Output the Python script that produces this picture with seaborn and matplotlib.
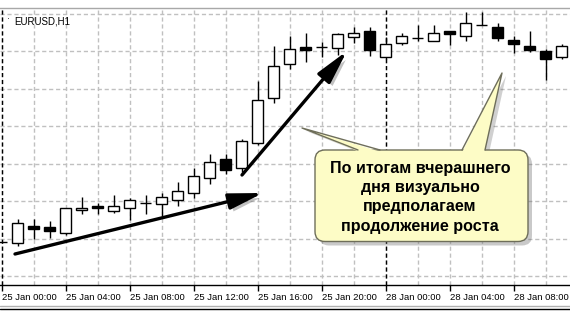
import numpy as np
import pandas as pd
import matplotlib
matplotlib.use("Agg")
import matplotlib.pyplot as plt
import seaborn as sns
from matplotlib.patches import FancyBboxPatch, Polygon
from matplotlib.transforms import IdentityTransform
from matplotlib.lines import Line2D
import matplotlib.patheffects as pe

# ---------------- data ----------------
symbol = "EURUSD,H1"
hours = list(range(36))  # hourly bars, 0 = 25 Jan 00:00, 24 = 28 Jan 00:00
opens = [1.36490, 1.36489, 1.36535, 1.36532, 1.36516, 1.36576, 1.36588, 1.36574, 1.36581, 1.36596,
         1.36592, 1.36603, 1.36623, 1.36661, 1.36713, 1.36690, 1.36755, 1.36875, 1.36966, 1.37011,
         1.37011, 1.37008, 1.37039, 1.37055, 1.36984, 1.37023, 1.37035, 1.37029, 1.37055, 1.37041,
         1.37071, 1.37064, 1.37031, 1.37014, 1.37001, 1.36984]
highs = [1.36490, 1.36552, 1.36552, 1.36547, 1.36581, 1.36610, 1.36596, 1.36616, 1.36608, 1.36616,
         1.36621, 1.36652, 1.36688, 1.36726, 1.36726, 1.36766, 1.36922, 1.37014, 1.37041, 1.37048,
         1.37026, 1.37050, 1.37064, 1.37064, 1.37039, 1.37048, 1.37071, 1.37071, 1.37055, 1.37105,
         1.37106, 1.37075, 1.37041, 1.37055, 1.37006, 1.37020]
lows = [1.36490, 1.36481, 1.36499, 1.36501, 1.36510, 1.36565, 1.36565, 1.36569, 1.36551, 1.36565,
        1.36560, 1.36587, 1.36608, 1.36645, 1.36674, 1.36679, 1.36750, 1.36863, 1.36952, 1.36973,
        1.36984, 1.36990, 1.37023, 1.36988, 1.36980, 1.37017, 1.37029, 1.37029, 1.37017, 1.37029,
        1.37071, 1.37029, 1.36995, 1.36999, 1.36924, 1.36979]
closes = [1.36490, 1.36541, 1.36525, 1.36520, 1.36581, 1.36581, 1.36581, 1.36587, 1.36602, 1.36596,
          1.36610, 1.36627, 1.36667, 1.36705, 1.36683, 1.36761, 1.36870, 1.36961, 1.37006, 1.37004,
          1.37011, 1.37047, 1.37050, 1.37004, 1.37019, 1.37041, 1.37035, 1.37048, 1.37046, 1.37075,
          1.37071, 1.37035, 1.37019, 1.37004, 1.36979, 1.37014]
tick_hours = [0, 4, 8, 12, 16, 20, 24, 28, 32]
tick_labels = ["25 Jan 00:00", "25 Jan 04:00", "25 Jan 08:00", "25 Jan 12:00", "25 Jan 16:00",
               "25 Jan 20:00", "28 Jan 00:00", "28 Jan 04:00", "28 Jan 08:00"]
grid_hours = list(range(0, 36, 2))
day_breaks = [0, 24]
price_grid = [1.3640, 1.3650, 1.3660, 1.3670, 1.3680, 1.3690, 1.3700, 1.3710]
note_lines = ["По итогам вчерашнего", "дня визуально", "предполагаем", "продолжение роста"]

df = pd.DataFrame({"h": hours, "o": opens, "hi": highs, "lo": lows, "c": closes})
df["bull"] = df["c"] >= df["o"]

# ---------------- figure ----------------
sns.set_theme(style="white")
plt.rcParams["font.family"] = ["Liberation Sans", "DejaVu Sans"]

W, H = 570, 311
fig = plt.figure(figsize=(W / 100, H / 100), dpi=100)
fig.patch.set_facecolor("white")
ax = fig.add_axes([0, 26 / H, 1, 277 / H])
ax.set_facecolor("white")

ax.set_xlim(-1.5 / 16, (570 - 1.5) / 16)
ax.set_ylim(1.363763, 1.371160)

grid_kw = dict(color="#C0C0C0", lw=1, ls=(0, (3, 2)))
ax.set_yticks(price_grid)
ax.yaxis.grid(True, **grid_kw)
ax.set_xticks(tick_hours)
ax.set_xticks(grid_hours, minor=True)
ax.xaxis.grid(True, which="both", **grid_kw)
ax.set_axisbelow(True)
for d in day_breaks:
    ax.axvline(d, color="black", lw=1, ls=(0, (3, 2)), zorder=2)

# candles
ax.vlines(df["h"], df["lo"], df["hi"], color="black", lw=1, zorder=3)
body_bottom = np.minimum(df["o"], df["c"])
body_height = (df["c"] - df["o"]).abs()
ax.bar(df["h"], body_height, bottom=body_bottom, width=0.64,
       color=np.where(df["bull"], "white", "black"), edgecolor="black", lw=1, zorder=4)

# axes styling
ax.set_xticklabels(tick_labels)
ax.tick_params(axis="x", which="major", length=4, width=1, direction="out", pad=2,
               labelsize=6.8, colors="black", bottom=True)
ax.tick_params(axis="x", which="minor", length=0)
ax.tick_params(axis="y", left=False, labelleft=False)
for lbl in ax.get_xticklabels():
    lbl.set_horizontalalignment("left")
for s in ["left", "right"]:
    ax.spines[s].set_visible(False)
ax.spines["bottom"].set_color("black")
ax.spines["bottom"].set_linewidth(1)
ax.spines["top"].set_color("#A8A8A8")
ax.spines["top"].set_linewidth(1)

fig.text(14 / W, 1 - 21 / H, symbol, fontsize=7, va="center", ha="left", color="black")
fig.text(7.5 / W, 1 - 19.5 / H, "·", fontsize=6, va="center", ha="left", color="black")

# bottom window frame lines
fig.add_artist(Line2D([0, 1], [1 - 306 / H] * 2, color="#B0B0B0", lw=1, transform=fig.transFigure))
fig.add_artist(Line2D([0, 1], [1 - 308.5 / H] * 2, color="black", lw=1, transform=fig.transFigure))

# ---------------- arrows ----------------
def P(x, y):
    return (x, H - y)

shadow = [pe.withSimplePatchShadow(offset=(2.5, -2.5), shadow_rgbFace="0.4", alpha=0.4)]
for tail, tip in [((15, 254), (263, 193)), ((242, 175), (347, 51))]:
    ax.annotate("", xy=P(*tip), xytext=P(*tail), xycoords="figure pixels", textcoords="figure pixels",
                arrowprops=dict(arrowstyle="-|>,head_length=1.7,head_width=0.4", lw=2.4,
                                color="black", shrinkA=0, shrinkB=0, path_effects=shadow),
                zorder=6)

# ---------------- callout ----------------
I = IdentityTransform()
fill_c = "#FDFCC6"
edge_c = "#6E6E5A"
bx0, bx1, by0, by1 = 315, 528, 150, 241.5
ptrs = [((302, 128), (358, 380)), ((502, 73), (462, 485))]

# shadows
fig.add_artist(FancyBboxPatch(P(bx0 + 4, by1 + 4), bx1 - bx0, by1 - by0,
                              boxstyle="round,pad=0,rounding_size=10", fc="0.4", ec="none",
                              alpha=0.35, transform=I, zorder=5))
for tip, (b0, b1) in ptrs:
    fig.add_artist(Polygon([P(tip[0] + 4, tip[1] + 3), P(b0 + 4, by0 + 3), P(b1 + 4, by0 + 3)],
                           closed=True, fc="0.4", ec="none", alpha=0.3, transform=I, zorder=5))

fig.add_artist(FancyBboxPatch(P(bx0, by1), bx1 - bx0, by1 - by0,
                              boxstyle="round,pad=0,rounding_size=10", fc=fill_c, ec=edge_c,
                              lw=1, transform=I, zorder=6))
for tip, (b0, b1) in ptrs:
    fig.add_artist(Polygon([P(*tip), P(b0 + 0.5, by0 + 1.5), P(b1 - 0.5, by0 + 1.5)],
                           closed=True, fc=fill_c, ec="none", transform=I, zorder=7))
    fig.add_artist(Line2D([b0, tip[0], b1], [H - by0, H - tip[1], H - by0], color=edge_c,
                          lw=1, transform=I, zorder=8))

for i, line in enumerate(note_lines):
    fig.text(420 / W, 1 - (172.5 + 19.5 * i) / H, line, fontsize=11.6, fontweight="bold",
             ha="center", va="baseline", color="black", zorder=9)

fig.savefig("out.png", dpi=100)
